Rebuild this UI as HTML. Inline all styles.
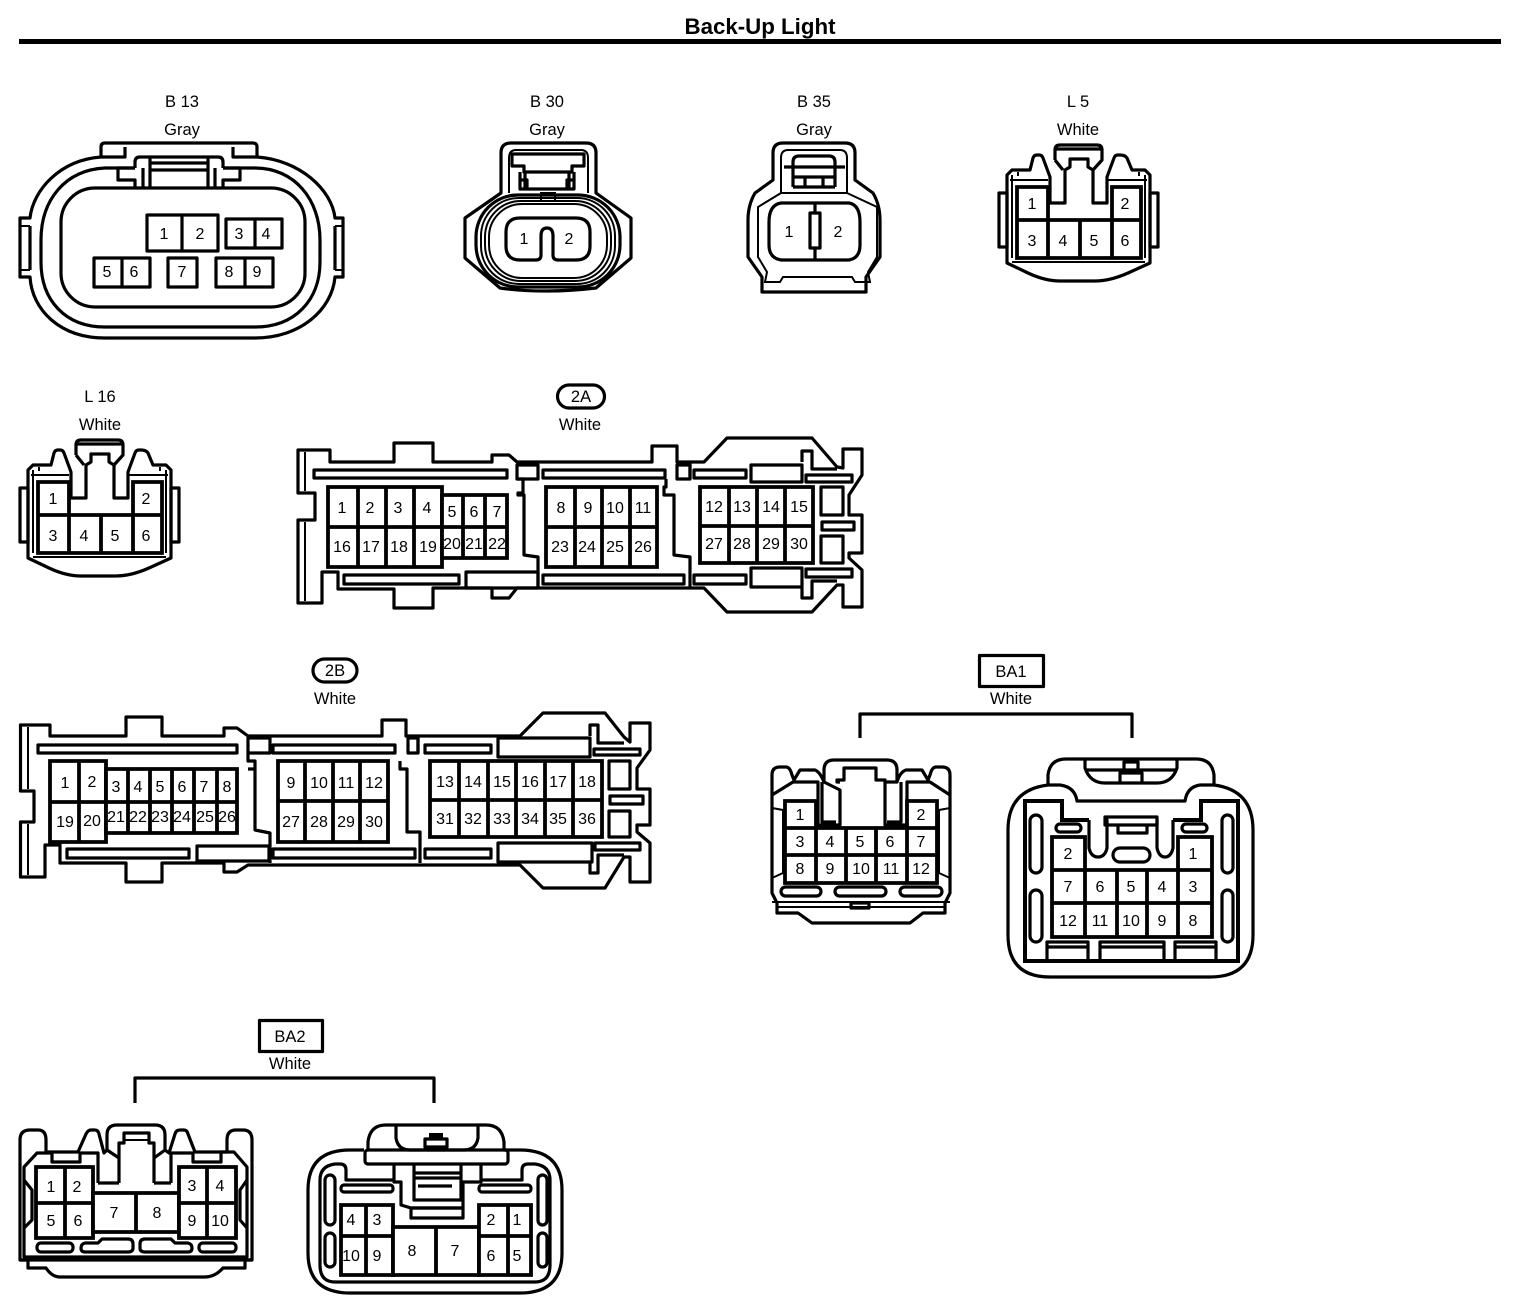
<!DOCTYPE html>
<html><head><meta charset="utf-8"><title>Back-Up Light</title>
<style>
html,body{margin:0;padding:0;background:#fff}
svg{display:block}
.s{fill:none;stroke:#000;stroke-width:3.2;stroke-linejoin:round}
.w{fill:#fff;stroke:#000;stroke-width:3.2;stroke-linejoin:round}
.t{fill:none;stroke:#000;stroke-width:2}
.c{fill:#fff;stroke:#000;stroke-width:3.8}
text{font-family:"Liberation Sans",sans-serif;fill:#000;text-anchor:middle}
.l{font-size:16.5px}
.p text,text.p{font-size:16px}
</style></head><body>
<svg xmlns="http://www.w3.org/2000/svg" width="1536" height="1310" viewBox="0 0 1536 1310">
<rect width="1536" height="1310" fill="#fff"/>
<text x="760" y="34" font-size="22" font-weight="bold" textLength="151" lengthAdjust="spacingAndGlyphs">Back-Up Light</text>
<rect x="19" y="39" width="1482" height="5"/>

<!-- labels -->
<g class="l">
<text x="182" y="107">B 13</text><text x="182" y="135">Gray</text>
<text x="547" y="107">B 30</text><text x="547" y="135">Gray</text>
<text x="814" y="107">B 35</text><text x="814" y="135">Gray</text>
<text x="1078" y="107">L 5</text><text x="1078" y="135">White</text>
<text x="100" y="402">L 16</text><text x="100" y="430">White</text>
<text x="581" y="402">2A</text><text x="580" y="430">White</text>
<text x="335" y="676">2B</text><text x="335" y="704">White</text>
<text x="1011" y="677">BA1</text><text x="1011" y="704">White</text>
<text x="290" y="1042">BA2</text><text x="290" y="1069">White</text>
</g>
<rect x="557.5" y="385" width="47" height="23" rx="11.5" class="s"/>
<rect x="313" y="659" width="44" height="23" rx="11.5" class="s"/>
<rect x="979.5" y="655.5" width="64" height="31" class="s"/>
<rect x="259.5" y="1020.5" width="63" height="31" class="s"/>
<path class="s" d="M860 738V714H1132V738"/>
<path class="s" d="M135 1103V1078H434V1103"/>

<!-- B13 -->
<g>
<path class="s" d="M101 157V147Q101 143 105 143H253Q257 143 257 147V157C300 160 332 190 335 218H343V277H335C332 310 300 338 255 338H105C60 338 32 310 30 277H20V218H30C33 190 60 160 101 157Z"/>
<path class="s" d="M101 157H125V147M257 157H233V147M30 226V270M335 226V270"/>
<path class="t" d="M30 226H20M30 270H20M335 226H343M335 270H343"/>
<path class="s" d="M135 168H105C65 170 41 200 41 240V262C41 300 65 327 105 327H255C295 327 320 300 320 262V240C320 200 295 168 255 168H223"/>
<rect x="61" y="188" width="244" height="119" rx="34" class="s"/>
<path class="s" d="M135 168V162Q135 157 140 157H218Q223 157 223 162V168M150 158V188M208 158V188M150 163H208M150 170H208M143 168V188M215 168V188M135 168H118V180H135V188M223 168H240V180H223V188"/>
<g class="p">
<rect x="147" y="215" width="71" height="36" class="w"/><path class="s" d="M182 215V251"/>
<rect x="226" y="219" width="56" height="29" class="w"/><path class="s" d="M255 219V248"/>
<rect x="94" y="258" width="56" height="29" class="w"/><path class="s" d="M122 258V287"/>
<rect x="168" y="258" width="29" height="29" class="w"/>
<rect x="216" y="258" width="57" height="29" class="w"/><path class="s" d="M245 258V287"/>
<text x="164" y="239">1</text><text x="200" y="239">2</text><text x="239" y="239">3</text><text x="266" y="239">4</text>
<text x="107" y="277">5</text><text x="134" y="277">6</text><text x="182" y="277">7</text><text x="229" y="277">8</text><text x="257" y="277">9</text>
</g>
</g>

<!-- B30 -->
<g>
<path class="s" d="M501 193V153Q501 143 511 143H586Q596 143 596 153V193L631 218V258L596 288Q570 291 547 291Q520 291 500 288L465 258V218Z"/>
<path class="t" d="M509 193V158Q509 150 516 150H581Q588 150 588 158V193"/>
<path class="s" d="M512 166V154H584V166H572V172H524V166ZM525 172V189H569V172M520 172V189H527V180H520M574 172V189H567V180H574"/>
<rect x="476" y="195" width="144" height="92" rx="42" class="s"/>
<rect x="481" y="198" width="134" height="86" rx="38" class="t"/>
<rect x="485" y="201" width="126" height="80" rx="36" class="t"/>
<rect x="489" y="204" width="118" height="74" rx="33" class="t"/>
<rect x="541" y="193" width="14" height="8" class="t" fill="#fff"/>
<path class="s" d="M520 218H576Q590 218 590 232V246Q590 260 576 260H558Q553 260 553 255V236Q553 228 547 228T541 236V255Q541 260 536 260H520Q506 260 506 246V232Q506 218 520 218Z"/>
<g class="p"><text x="524" y="244">1</text><text x="569" y="244">2</text></g>
</g>

<!-- B35 -->
<g>
<path class="s" d="M773 180V153Q773 143 783 143H845Q855 143 855 153V180L873 193Q880 205 880 220V257L866 277V292H762V277L748 257V220Q748 205 755 193Z"/>
<path class="t" d="M781 193V158Q781 150 788 150H840Q847 150 847 158V193Z"/>
<path class="t" d="M781 193L758 207V257L767 272L765 282H780L783 277H852L855 282H870L868 272L877 257V207L847 193"/>
<path class="s" d="M793 187V162Q793 156 799 156H829Q835 156 835 162V187M784 167H845M793 177H835M793 187H835M805 177V187M823 177V187"/>
<path class="s" d="M781 203H849Q860 205 860 222V245Q860 258 849 260H781Q769 258 769 245V222Q769 205 781 203Z"/>
<path class="s" d="M815 203V213M815 248V260"/>
<rect x="810" y="213" width="10" height="35" class="w"/>
<g class="p"><text x="789" y="237">1</text><text x="838" y="237">2</text></g>
</g>

<!-- L5 -->
<g>
<path class="s" d="M1007 175L1012 170H1030L1033 158Q1034 155 1037 155H1039Q1042 155 1043 158L1050 177V203H1065V170L1070 167V159H1088V167L1093 170V203H1107V177L1114 158Q1115 155 1118 155H1120Q1125 155 1127 158L1132 170H1145L1150 175V263L1128 273Q1110 281 1095 281H1060Q1045 281 1028 273L1007 263Z"/>
<path class="s" d="M1055 160V150Q1055 145 1060 145H1097Q1102 145 1102 150V160L1093 170M1055 160L1063 170M1055 149H1102"/>
<path class="t" d="M1012 175V258M1145 175V258M1010 180H1048M1107 180H1147M1012 262H1145M1018 176V172M1139 176V172"/>
<rect x="999" y="193" width="8" height="54" class="s"/><rect x="1150" y="193" width="8" height="54" class="s"/>
<g class="p">
<path class="c" d="M1017 187H1048V220H1017ZM1112 187H1141V220H1112ZM1017 220H1141V258H1017ZM1048 220V258M1080 220V258M1112 220V258"/>
<text x="1032" y="209">1</text><text x="1125" y="209">2</text><text x="1032" y="246">3</text><text x="1063" y="246">4</text><text x="1094" y="246">5</text><text x="1125" y="246">6</text>
</g>
</g>

<!-- L16 -->
<g transform="translate(-979 295)">
<path class="s" d="M1007 175L1012 170H1030L1033 158Q1034 155 1037 155H1039Q1042 155 1043 158L1050 177V203H1065V170L1070 167V159H1088V167L1093 170V203H1107V177L1114 158Q1115 155 1118 155H1120Q1125 155 1127 158L1132 170H1145L1150 175V263L1128 273Q1110 281 1095 281H1060Q1045 281 1028 273L1007 263Z"/>
<path class="s" d="M1055 160V150Q1055 145 1060 145H1097Q1102 145 1102 150V160L1093 170M1055 160L1063 170M1055 149H1102"/>
<path class="t" d="M1012 175V258M1145 175V258M1010 180H1048M1107 180H1147M1012 262H1145M1018 176V172M1139 176V172"/>
<rect x="999" y="193" width="8" height="54" class="s"/><rect x="1150" y="193" width="8" height="54" class="s"/>
<g class="p">
<path class="c" d="M1017 187H1048V220H1017ZM1112 187H1141V220H1112ZM1017 220H1141V258H1017ZM1048 220V258M1080 220V258M1112 220V258"/>
<text x="1032" y="209">1</text><text x="1125" y="209">2</text><text x="1032" y="246">3</text><text x="1063" y="246">4</text><text x="1094" y="246">5</text><text x="1125" y="246">6</text>
</g>
</g>

<!-- 2A -->
<g>
<path class="s" d="M298 450H330V462H394V443H433V462H492V455H509L517 462H652V446H677V462H704L727 438H812L837 467L843 468V449H862V475L849 495V515H862V553H849V558L862 570V607H843V585H837L812 612H727L704 588H517L509 598H492V588H433V608H394V589H338V572H322V603H298V520H315V493H298Z"/>
<path class="t" d="M305 452V491M305 522V601"/>
<path class="s" d="M802 462V451H812V469H837M802 588V598H812V581H837"/>
<rect x="314" y="470" width="193" height="8" class="s"/><rect x="543" y="470" width="122" height="8" class="s"/><rect x="694" y="470" width="52" height="8" class="s"/>
<rect x="751" y="465" width="51" height="17" class="s"/><rect x="806" y="475" width="46" height="7" class="s"/>
<rect x="517" y="465" width="21" height="14" class="s"/><rect x="677" y="465" width="13" height="14" class="s"/>
<rect x="344" y="575" width="115" height="9" class="s"/><rect x="466" y="572" width="72" height="16" class="s"/>
<rect x="543" y="575" width="141" height="9" class="s"/><rect x="694" y="575" width="52" height="9" class="s"/>
<rect x="751" y="568" width="51" height="19" class="s"/><rect x="806" y="569" width="46" height="8" class="s"/>
<path class="s" d="M517 479H523V493H518V495H524V555L538 557V572M538 587V572M666 479V487H664V495H674V555L690 557V588M690 479V462"/>
<rect x="821" y="487" width="22" height="28" class="s"/><rect x="822" y="522" width="32" height="8" class="s"/><rect x="821" y="536" width="22" height="27" class="s"/>
<g class="p">
<path class="c" d="M328 487H442V567H328ZM328 527H442M358 487V567M386 487V567M414 487V567"/>
<path class="c" d="M442 495H507V558H442ZM442 527H507M463 495V558M485 495V558"/>
<path class="c" d="M546 487H657V567H546ZM546 527H657M575 487V567M602 487V567M630 487V567"/>
<path class="c" d="M700 487H813V563H700ZM700 526H813M729 487V563M757 487V563M785 487V563"/>
<text x="342" y="513">1</text><text x="370" y="513">2</text><text x="398" y="513">3</text><text x="427" y="513">4</text><text x="452" y="517">5</text><text x="474" y="517">6</text><text x="497" y="517">7</text>
<text x="342" y="552">16</text><text x="371" y="552">17</text><text x="399" y="552">18</text><text x="428" y="552">19</text><text x="452" y="549">20</text><text x="474" y="549">21</text><text x="497" y="549">22</text>
<text x="561" y="513">8</text><text x="588" y="513">9</text><text x="615" y="513">10</text><text x="643" y="513">11</text>
<text x="560" y="552">23</text><text x="587" y="552">24</text><text x="615" y="552">25</text><text x="643" y="552">26</text>
<text x="714" y="512">12</text><text x="742" y="512">13</text><text x="771" y="512">14</text><text x="799" y="512">15</text>
<text x="714" y="549">27</text><text x="742" y="549">28</text><text x="771" y="549">29</text><text x="799" y="549">30</text>
</g>
</g>

<!-- 2B -->
<g>
<path class="s" d="M20.500 725H50V736H126V717H162V736H224V728H237L248 736H382V720H406V736H520L543 713H605L624 737L630 742V723H650V750L637 768V789H650V825H637V832L650 843V882H630V857H624L605 888H543L520 865H248L237 872H224V863H162V882H126V863H60V845H45V877H20.500V822H34V791H20.500Z"/>
<path class="t" d="M28 727V789M28 824V875"/>
<path class="s" d="M590 736V725H598V743H624M590 863V873H598V855H624"/>
<rect x="38" y="745" width="199" height="8" class="s"/><rect x="273" y="745" width="122" height="8" class="s"/><rect x="425" y="745" width="66" height="8" class="s"/>
<rect x="498" y="738" width="92" height="19" class="s"/><rect x="594" y="749" width="46" height="6" class="s"/>
<rect x="248" y="738" width="22" height="15" class="s"/><rect x="408" y="738" width="10" height="15" class="s"/>
<rect x="67" y="849" width="122" height="9" class="s"/><rect x="197" y="846" width="72" height="15" class="s"/>
<rect x="273" y="849" width="142" height="9" class="s"/><rect x="425" y="849" width="66" height="9" class="s"/>
<rect x="498" y="843" width="94" height="19" class="s"/><rect x="595" y="843" width="45" height="7" class="s"/>
<path class="s" d="M248 753V761H255V830L270 833V863M418 736V753M400 761V769H407V832H420V863M255 769H248"/>
<rect x="609" y="761" width="21" height="28" class="s"/><rect x="610" y="796" width="33" height="8" class="s"/><rect x="609" y="811" width="21" height="26" class="s"/>
<g class="p">
<path class="c" d="M50 761H106V842H50ZM50 802H106M79 761V842"/>
<path class="c" d="M106 769H237V833H106ZM106 802H237M128 769V833M150 769V833M172 769V833M194 769V833M217 769V833"/>
<path class="c" d="M278 761H388V842H278ZM278 801H388M305 761V842M333 761V842M360 761V842"/>
<path class="c" d="M430 761H602V837H430ZM430 800H602M459 761V837M488 761V837M516 761V837M545 761V837M573 761V837"/>
<text x="65" y="788">1</text><text x="92" y="787">2</text><text x="116" y="792">3</text><text x="138" y="792">4</text><text x="160" y="792">5</text><text x="182" y="792">6</text><text x="204" y="792">7</text><text x="227" y="792">8</text>
<text x="65" y="827">19</text><text x="92" y="826">20</text><text x="116" y="822">21</text><text x="138" y="822">22</text><text x="160" y="822">23</text><text x="182" y="822">24</text><text x="205" y="822">25</text><text x="227" y="822">26</text>
<text x="291" y="788">9</text><text x="319" y="788">10</text><text x="346" y="788">11</text><text x="374" y="788">12</text>
<text x="291" y="827">27</text><text x="319" y="827">28</text><text x="346" y="827">29</text><text x="374" y="827">30</text>
<text x="445" y="787">13</text><text x="473" y="787">14</text><text x="502" y="787">15</text><text x="530" y="787">16</text><text x="558" y="787">17</text><text x="587" y="787">18</text>
<text x="445" y="824">31</text><text x="473" y="824">32</text><text x="502" y="824">33</text><text x="530" y="824">34</text><text x="558" y="824">35</text><text x="587" y="824">36</text>
</g>
</g>

<!-- BA1 left -->
<g>
<path class="s" d="M772 893V775Q772 767 780 767H786Q790 767 792 775L794 780L800 770H815Q820 772 824 782V770Q824 760 834 760H887Q897 760 897 770V782Q900 772 906 770H922L928 780L930 775Q932 767 936 767H942Q950 767 950 775V893L945 903V913H923L910 923H812L798 913H777V903Z"/>
<path class="s" d="M772 795L793 782H818V825H840V790L824 782M840 782H837V780H844V768H876V780H885V825H907V782H930L950 795M885 782L897 782"/>
<path class="s" d="M822 782V822H836M901 782V822H887"/>
<path class="t" d="M772 808L783 810V873L772 878M950 808L939 810V873L950 878M772 902H950M777 907H945"/>
<g class="p">
<path class="c" d="M785 801H816V828H785ZM907 801H937V828H907ZM785 828H937V883H785ZM785 855H937M816 828V883M846 828V883M876 828V883M907 828V883"/>
<text x="800" y="820">1</text><text x="921" y="820">2</text>
<text x="800" y="847">3</text><text x="830" y="847">4</text><text x="860" y="847">5</text><text x="890" y="847">6</text><text x="921" y="847">7</text>
<text x="800" y="874">8</text><text x="830" y="874">9</text><text x="861" y="874">10</text><text x="891" y="874">11</text><text x="921" y="874">12</text>
</g>
<rect x="781" y="887" width="40" height="9" rx="4.500" class="s"/><rect x="835" y="887" width="51" height="9" rx="4.500" class="s"/><rect x="900" y="887" width="42" height="9" rx="4.500" class="s"/>
<rect x="851" y="903" width="18" height="5" class="s"/>
</g>

<!-- BA1 right -->
<g>
<path class="s" d="M1048 785V775Q1050 759 1066 759H1196Q1212 759 1214 775V785Q1253 790 1253 830V935Q1253 977 1210 977H1050Q1008 977 1008 935V830Q1008 790 1048 785Z"/>
<path class="s" d="M1085 759V768Q1090 783 1105 783H1157Q1172 783 1177 768V759M1085 770H1177M1124 762H1138V773H1124ZM1120 773H1142V783H1120Z"/>
<path class="s" d="M1048 785H1060Q1075 787 1077 801H1185Q1187 787 1200 785H1214"/>
<path d="M1089 820H1062V801H1025V961H1238V801H1201V820H1173" fill="none" stroke="#000" stroke-width="4"/>
<path class="s" d="M1089 820V848Q1091 857 1098 857T1107 848V820H1105M1173 820V848Q1171 857 1165 857T1157 848V820"/>
<path class="s" d="M1105 817H1157V825H1147V833H1118V825H1105ZM1105 825H1157"/>
<rect x="1113" y="848" width="37" height="14" rx="7" class="s"/>
<rect x="1056" y="824" width="25" height="8" rx="4" class="s"/><rect x="1182" y="824" width="25" height="8" rx="4" class="s"/>
<rect x="1030" y="815" width="12" height="58" rx="6" class="s"/><rect x="1030" y="890" width="12" height="52" rx="6" class="s"/>
<rect x="1222" y="815" width="11" height="58" rx="5.500" class="s"/><rect x="1222" y="890" width="11" height="52" rx="5.500" class="s"/>
<g class="p">
<path class="c" d="M1052 837H1085V870H1052ZM1178 837H1212V870H1178ZM1052 870H1212V937H1052ZM1052 903H1212M1085 870V937M1117 870V937M1147 870V937M1178 870V937"/>
<text x="1068" y="859">2</text><text x="1193" y="859">1</text>
<text x="1068" y="892">7</text><text x="1100" y="892">6</text><text x="1131" y="892">5</text><text x="1162" y="892">4</text><text x="1193" y="892">3</text>
<text x="1068" y="926">12</text><text x="1100" y="926">11</text><text x="1131" y="926">10</text><text x="1162" y="926">9</text><text x="1193" y="926">8</text>
</g>
<path class="s" d="M1047 959V942H1088V959M1047 947H1088M1100 959V942H1164V959M1100 947H1164M1175 959V942H1216V959M1175 947H1216"/>
</g>

<!-- BA2 left -->
<g>
<path class="s" d="M20 1260V1140Q20 1130 30 1130H38Q46 1130 46 1140V1152H78L86 1134Q88 1130 91 1130H95Q98 1130 99 1134L104 1153L107 1150V1135Q107 1125 117 1125H155Q165 1125 165 1135V1150L169 1153L175 1134Q176 1130 180 1130H184Q187 1130 188 1134L195 1152H227V1140Q227 1130 236 1130H243Q252 1130 252 1140V1260H245V1268H223Q215 1277 205 1277H60Q52 1277 46 1268H28V1260Z"/>
<path class="s" d="M107 1150L119 1158M165 1150L154 1158"/>
<path class="s" d="M119 1183V1143H124V1133H149V1143H154V1183"/>
<path class="t" d="M124 1140H149"/>
<path class="s" d="M98 1183H119M154 1183H171M98 1183V1153H80V1162H52V1153H37L24 1167V1257H247V1167L234 1152H221V1162H193V1153H171V1183"/>
<path class="s" d="M24 1180L32 1190V1220L24 1228M247 1180L240 1190V1220L247 1228M20 1260H252"/>
<g class="p">
<path class="c" d="M36 1167H93V1238H36ZM36 1203H93M65 1167V1238"/>
<path class="c" d="M93 1193H179V1232H93ZM136 1193V1232"/>
<path class="c" d="M179 1167H236V1238H179ZM179 1203H236M207 1167V1238"/>
<text x="51" y="1192">1</text><text x="77" y="1192">2</text><text x="51" y="1226">5</text><text x="78" y="1226">6</text>
<text x="114" y="1218">7</text><text x="157" y="1218">8</text>
<text x="192" y="1191">3</text><text x="220" y="1191">4</text><text x="192" y="1226">9</text><text x="220" y="1226">10</text>
</g>
<rect x="37" y="1243" width="36" height="9" rx="4" class="s"/><path class="s" d="M85 1243H98L102 1239H128Q133 1239 133 1244V1248Q133 1252 128 1252H85Q81 1252 81 1248T85 1243Z"/><path class="s" d="M188 1243H175L171 1239H145Q140 1239 140 1244V1248Q140 1252 145 1252H188Q192 1252 192 1248T188 1243Z"/><rect x="199" y="1243" width="37" height="9" rx="4" class="s"/>
</g>

<!-- BA2 right -->
<g>
<path class="s" d="M364 1150H350Q308 1150 308 1190V1253Q308 1293 350 1293H520Q562 1293 562 1253V1190Q562 1150 520 1150H504"/>
<path class="s" d="M368 1150V1142Q370 1125 386 1125H486Q502 1125 504 1142V1150"/>
<rect x="365" y="1150" width="143" height="14" rx="3" class="s"/>
<path class="s" d="M396 1125V1138Q398 1150 410 1150H464Q476 1150 478 1138V1125"/>
<rect x="429" y="1133" width="14" height="6" fill="#000"/><rect x="425" y="1139" width="22" height="8" class="s"/>
<path class="s" d="M394 1180H346V1170Q346 1164 340 1164H335Q320 1166 320 1180V1265Q320 1282 335 1282H535Q550 1282 550 1265V1180Q550 1166 535 1164H528Q522 1164 522 1170V1180H481"/>
<path class="s" d="M394 1164V1182H401V1205L411 1208H463V1182H481V1164M414 1164V1200H461V1164M414 1173H461M414 1178H461M418 1186H452"/>
<rect x="411" y="1208" width="52" height="10" class="s"/>
<g class="p">
<path class="c" d="M341 1205H393V1275H341ZM341 1236H393M366 1205V1275"/>
<path class="c" d="M393 1227H479V1275H393ZM436 1227V1275"/>
<path class="c" d="M479 1205H531V1275H479ZM479 1236H531M508 1205V1275"/>
<text x="351" y="1225">4</text><text x="377" y="1225">3</text><text x="491" y="1225">2</text><text x="517" y="1225">1</text>
<text x="351" y="1261">10</text><text x="377" y="1261">9</text><text x="412" y="1256">8</text><text x="455" y="1256">7</text><text x="491" y="1261">6</text><text x="517" y="1261">5</text>
</g>
<rect x="341" y="1185" width="52" height="7" rx="3" class="s"/><rect x="479" y="1185" width="52" height="7" rx="3" class="s"/>
<rect x="325" y="1175" width="10" height="50" rx="5" class="s"/><rect x="325" y="1233" width="10" height="34" rx="5" class="s"/>
<rect x="538" y="1175" width="9" height="50" rx="4.500" class="s"/><rect x="538" y="1233" width="9" height="34" rx="4.500" class="s"/>
</g>
</svg>
</body></html>
